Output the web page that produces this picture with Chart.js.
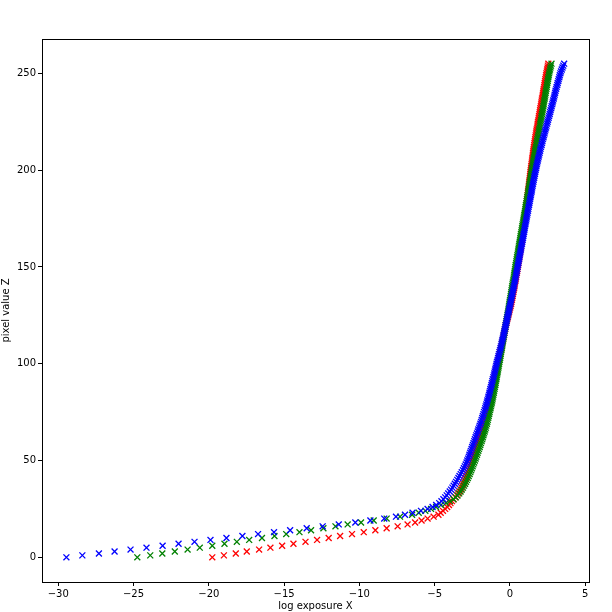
<!DOCTYPE html>
<html>
<head>
<meta charset="utf-8">
<script src="https://cdn.jsdelivr.net/npm/chart.js@4.4.1/dist/chart.umd.min.js"></script>
<style>
  html, body { margin: 0; padding: 0; background: #fff; }
  #wrap { width: 612px; height: 612px; }
</style>
</head>
<body>
<div id="wrap"><canvas id="myChart" width="612" height="612"></canvas></div>
<script>
// log exposure x for each pixel value Z = 0..255, one array per channel
const redX = [
  -19.77, -19.00, -18.21, -17.48, -16.66, -15.91, -15.13, -14.38, -13.58, -12.81,
  -12.04, -11.28, -10.49, -9.71, -8.94, -8.19, -7.46, -6.80, -6.30, -5.87,
  -5.47, -5.07, -4.75, -4.60, -4.45, -4.30, -4.17, -4.05, -3.95, -3.85,
  -3.75, -3.63, -3.52, -3.44, -3.36, -3.28, -3.22, -3.16, -3.10, -3.04,
  -2.99, -2.93, -2.88, -2.83, -2.79, -2.74, -2.70, -2.65, -2.61, -2.56,
  -2.52, -2.48, -2.43, -2.39, -2.34, -2.30, -2.26, -2.22, -2.18, -2.14,
  -2.10, -2.06, -2.02, -1.98, -1.94, -1.90, -1.86, -1.83, -1.79, -1.76,
  -1.72, -1.69, -1.65, -1.62, -1.58, -1.55, -1.52, -1.48, -1.45, -1.41,
  -1.38, -1.35, -1.32, -1.29, -1.26, -1.23, -1.20, -1.17, -1.14, -1.11,
  -1.08, -1.05, -1.02, -1.00, -0.97, -0.94, -0.91, -0.89, -0.86, -0.83,
  -0.80, -0.77, -0.75, -0.72, -0.69, -0.66, -0.63, -0.61, -0.58, -0.55,
  -0.52, -0.50, -0.47, -0.45, -0.42, -0.40, -0.37, -0.35, -0.32, -0.30,
  -0.27, -0.24, -0.21, -0.18, -0.14, -0.11, -0.08, -0.05, -0.02, 0.02,
  0.05, 0.08, 0.10, 0.13, 0.15, 0.18, 0.20, 0.23, 0.25, 0.28,
  0.30, 0.32, 0.34, 0.37, 0.39, 0.41, 0.43, 0.46, 0.48, 0.50,
  0.52, 0.54, 0.56, 0.58, 0.60, 0.62, 0.64, 0.66, 0.68, 0.70,
  0.72, 0.74, 0.76, 0.78, 0.79, 0.81, 0.83, 0.85, 0.87, 0.88,
  0.90, 0.92, 0.93, 0.95, 0.96, 0.98, 1.00, 1.01, 1.03, 1.04,
  1.06, 1.08, 1.09, 1.11, 1.12, 1.14, 1.16, 1.17, 1.19, 1.20,
  1.22, 1.24, 1.25, 1.27, 1.28, 1.30, 1.32, 1.33, 1.35, 1.36,
  1.38, 1.40, 1.41, 1.43, 1.45, 1.47, 1.48, 1.50, 1.52, 1.53,
  1.55, 1.57, 1.59, 1.61, 1.63, 1.65, 1.67, 1.69, 1.71, 1.73,
  1.75, 1.77, 1.80, 1.82, 1.84, 1.86, 1.89, 1.91, 1.93, 1.96,
  1.98, 2.00, 2.02, 2.05, 2.07, 2.09, 2.11, 2.13, 2.16, 2.18,
  2.20, 2.22, 2.24, 2.27, 2.29, 2.31, 2.33, 2.35, 2.38, 2.40,
  2.42, 2.45, 2.47, 2.50, 2.52, 2.55
];

const greenX = [
  -24.75, -23.89, -23.09, -22.26, -21.41, -20.60, -19.77, -18.96, -18.14, -17.32,
  -16.47, -15.64, -14.86, -13.98, -13.21, -12.39, -11.59, -10.78, -9.89, -9.05,
  -8.19, -7.30, -6.50, -6.06, -5.62, -5.24, -4.91, -4.58, -4.25, -3.98,
  -3.75, -3.60, -3.48, -3.37, -3.28, -3.20, -3.12, -3.05, -2.98, -2.92,
  -2.86, -2.80, -2.74, -2.68, -2.63, -2.58, -2.53, -2.48, -2.43, -2.38,
  -2.33, -2.28, -2.24, -2.19, -2.15, -2.10, -2.06, -2.01, -1.97, -1.93,
  -1.88, -1.84, -1.80, -1.76, -1.72, -1.68, -1.64, -1.60, -1.57, -1.53,
  -1.50, -1.47, -1.44, -1.41, -1.38, -1.35, -1.32, -1.29, -1.26, -1.23,
  -1.20, -1.17, -1.15, -1.12, -1.10, -1.07, -1.05, -1.02, -1.00, -0.97,
  -0.95, -0.93, -0.90, -0.88, -0.86, -0.83, -0.81, -0.79, -0.76, -0.74,
  -0.72, -0.70, -0.67, -0.65, -0.63, -0.61, -0.59, -0.56, -0.54, -0.52,
  -0.50, -0.48, -0.46, -0.43, -0.41, -0.39, -0.37, -0.35, -0.32, -0.30,
  -0.28, -0.26, -0.24, -0.21, -0.19, -0.17, -0.15, -0.12, -0.10, -0.08,
  -0.06, -0.04, -0.02, 0.00, 0.03, 0.05, 0.07, 0.09, 0.11, 0.13,
  0.15, 0.17, 0.19, 0.22, 0.24, 0.26, 0.28, 0.30, 0.32, 0.34,
  0.36, 0.38, 0.41, 0.43, 0.45, 0.47, 0.49, 0.52, 0.54, 0.56,
  0.58, 0.60, 0.62, 0.65, 0.67, 0.69, 0.71, 0.73, 0.76, 0.78,
  0.80, 0.82, 0.84, 0.87, 0.89, 0.91, 0.93, 0.95, 0.98, 1.00,
  1.02, 1.04, 1.06, 1.09, 1.11, 1.13, 1.15, 1.17, 1.20, 1.22,
  1.24, 1.26, 1.28, 1.30, 1.33, 1.35, 1.37, 1.39, 1.41, 1.43,
  1.45, 1.47, 1.50, 1.52, 1.54, 1.56, 1.58, 1.60, 1.63, 1.65,
  1.67, 1.70, 1.72, 1.75, 1.77, 1.80, 1.82, 1.85, 1.87, 1.90,
  1.92, 1.94, 1.97, 1.99, 2.01, 2.04, 2.06, 2.08, 2.10, 2.13,
  2.15, 2.17, 2.19, 2.22, 2.24, 2.26, 2.28, 2.31, 2.33, 2.35,
  2.37, 2.39, 2.42, 2.44, 2.46, 2.48, 2.51, 2.53, 2.55, 2.58,
  2.60, 2.63, 2.66, 2.69, 2.72, 2.76
];

const blueX = [
  -29.46, -28.40, -27.30, -26.26, -25.20, -24.14, -23.07, -22.01, -20.95, -19.89,
  -18.83, -17.77, -16.73, -15.67, -14.60, -13.50, -12.44, -11.37, -10.27, -9.27,
  -8.35, -7.57, -6.97, -6.47, -5.91, -5.47, -5.14, -4.90, -4.70, -4.55,
  -4.42, -4.30, -4.20, -4.10, -4.00, -3.91, -3.82, -3.74, -3.66, -3.58,
  -3.50, -3.42, -3.35, -3.27, -3.20, -3.12, -3.06, -3.00, -2.94, -2.88,
  -2.83, -2.78, -2.73, -2.69, -2.64, -2.60, -2.55, -2.51, -2.46, -2.42,
  -2.37, -2.33, -2.28, -2.24, -2.19, -2.14, -2.10, -2.05, -2.01, -1.96,
  -1.92, -1.88, -1.84, -1.80, -1.76, -1.72, -1.68, -1.64, -1.61, -1.57,
  -1.53, -1.50, -1.46, -1.43, -1.39, -1.36, -1.33, -1.30, -1.26, -1.23,
  -1.20, -1.17, -1.14, -1.10, -1.07, -1.04, -1.01, -0.98, -0.95, -0.92,
  -0.89, -0.86, -0.82, -0.79, -0.76, -0.73, -0.70, -0.66, -0.63, -0.60,
  -0.57, -0.54, -0.51, -0.48, -0.45, -0.42, -0.39, -0.36, -0.34, -0.31,
  -0.28, -0.25, -0.22, -0.20, -0.17, -0.14, -0.11, -0.08, -0.06, -0.03,
  0.00, 0.03, 0.05, 0.08, 0.10, 0.13, 0.16, 0.18, 0.21, 0.23,
  0.26, 0.29, 0.31, 0.34, 0.36, 0.39, 0.41, 0.44, 0.46, 0.49,
  0.51, 0.53, 0.56, 0.58, 0.61, 0.63, 0.65, 0.68, 0.70, 0.73,
  0.75, 0.77, 0.80, 0.82, 0.85, 0.87, 0.89, 0.91, 0.94, 0.96,
  0.98, 1.00, 1.03, 1.05, 1.08, 1.10, 1.12, 1.15, 1.17, 1.20,
  1.22, 1.24, 1.27, 1.29, 1.32, 1.34, 1.36, 1.39, 1.41, 1.44,
  1.46, 1.48, 1.51, 1.53, 1.56, 1.58, 1.61, 1.63, 1.66, 1.68,
  1.71, 1.74, 1.76, 1.79, 1.82, 1.85, 1.88, 1.91, 1.94, 1.97,
  2.00, 2.03, 2.06, 2.10, 2.13, 2.16, 2.19, 2.23, 2.26, 2.30,
  2.33, 2.36, 2.40, 2.43, 2.47, 2.50, 2.53, 2.57, 2.60, 2.64,
  2.67, 2.70, 2.74, 2.77, 2.81, 2.84, 2.87, 2.91, 2.94, 2.97,
  3.00, 3.03, 3.07, 3.10, 3.14, 3.17, 3.21, 3.24, 3.28, 3.31,
  3.35, 3.39, 3.44, 3.49, 3.54, 3.60
];

const xTicks = [-30, -25, -20, -15, -10, -5, 0, 5];
const yTicks = [0, 50, 100, 150, 200, 250];

// pair each channel's x with its pixel value (array index)
function toPoints(xs) {
  return xs.map((x, z) => ({ x: x, y: z }));
}

function channel(label, xs, color, order) {
  return {
    label: label,
    data: toPoints(xs),
    pointStyle: 'crossRot',
    pointRadius: 4.2,
    pointHoverRadius: 4.2,
    pointBorderWidth: 1.3,
    borderColor: color,
    backgroundColor: color,
    showLine: false,
    order: order
  };
}

// top and right spines, Chart.js only draws the axis-side border
const frame = {
  id: 'frame',
  afterDraw(chart) {
    const a = chart.chartArea;
    const c = chart.ctx;
    c.save();
    c.strokeStyle = '#000';
    c.lineWidth = 1;
    c.strokeRect(Math.round(a.left) + 0.5, Math.round(a.top) + 0.5,
      Math.round(a.right - a.left), Math.round(a.bottom - a.top));
    c.restore();
  }
};

const font = { family: 'DejaVu Sans', size: 10 };
// matplotlib prints a real minus sign
const minus = (v) => String(v).replace('-', '\u2212');

const ctx = document.getElementById('myChart').getContext('2d');
new Chart(ctx, {
  type: 'scatter',
  data: {
    datasets: [
      channel('red', redX, '#ff0000', 3),
      channel('green', greenX, '#008000', 2),
      channel('blue', blueX, '#0000ff', 1)
    ]
  },
  options: {
    responsive: false,
    animation: false,
    devicePixelRatio: 1,
    layout: { padding: { top: 39, right: 23, left: 0, bottom: 0 } },
    plugins: { legend: { display: false }, tooltip: { enabled: false } },
    scales: {
      x: {
        type: 'linear',
        min: -31.08,
        max: 5.25,
        afterBuildTicks: (s) => { s.ticks = xTicks.map(v => ({ value: v })); },
        afterFit: (s) => { s.height = 30; },
        ticks: { color: '#000', font: font, padding: 2, maxRotation: 0, callback: minus },
        grid: { display: true, drawOnChartArea: false, color: '#000', tickLength: 4 },
        border: { display: true, color: '#000' },
        title: { display: true, text: 'log exposure X', color: '#000', font: font, padding: { top: 0, bottom: 0 } }
      },
      y: {
        type: 'linear',
        min: -12.75,
        max: 267.75,
        afterBuildTicks: (s) => { s.ticks = yTicks.map(v => ({ value: v })); },
        afterFit: (s) => { s.width = 42; },
        ticks: { color: '#000', font: font, padding: 2, callback: minus },
        grid: { display: true, drawOnChartArea: false, color: '#000', tickLength: 4 },
        border: { display: true, color: '#000' },
        title: { display: true, text: 'pixel value Z', color: '#000', font: font, padding: { top: 0, bottom: 0 } }
      }
    }
  },
  plugins: [frame]
});
</script>
</body>
</html>
